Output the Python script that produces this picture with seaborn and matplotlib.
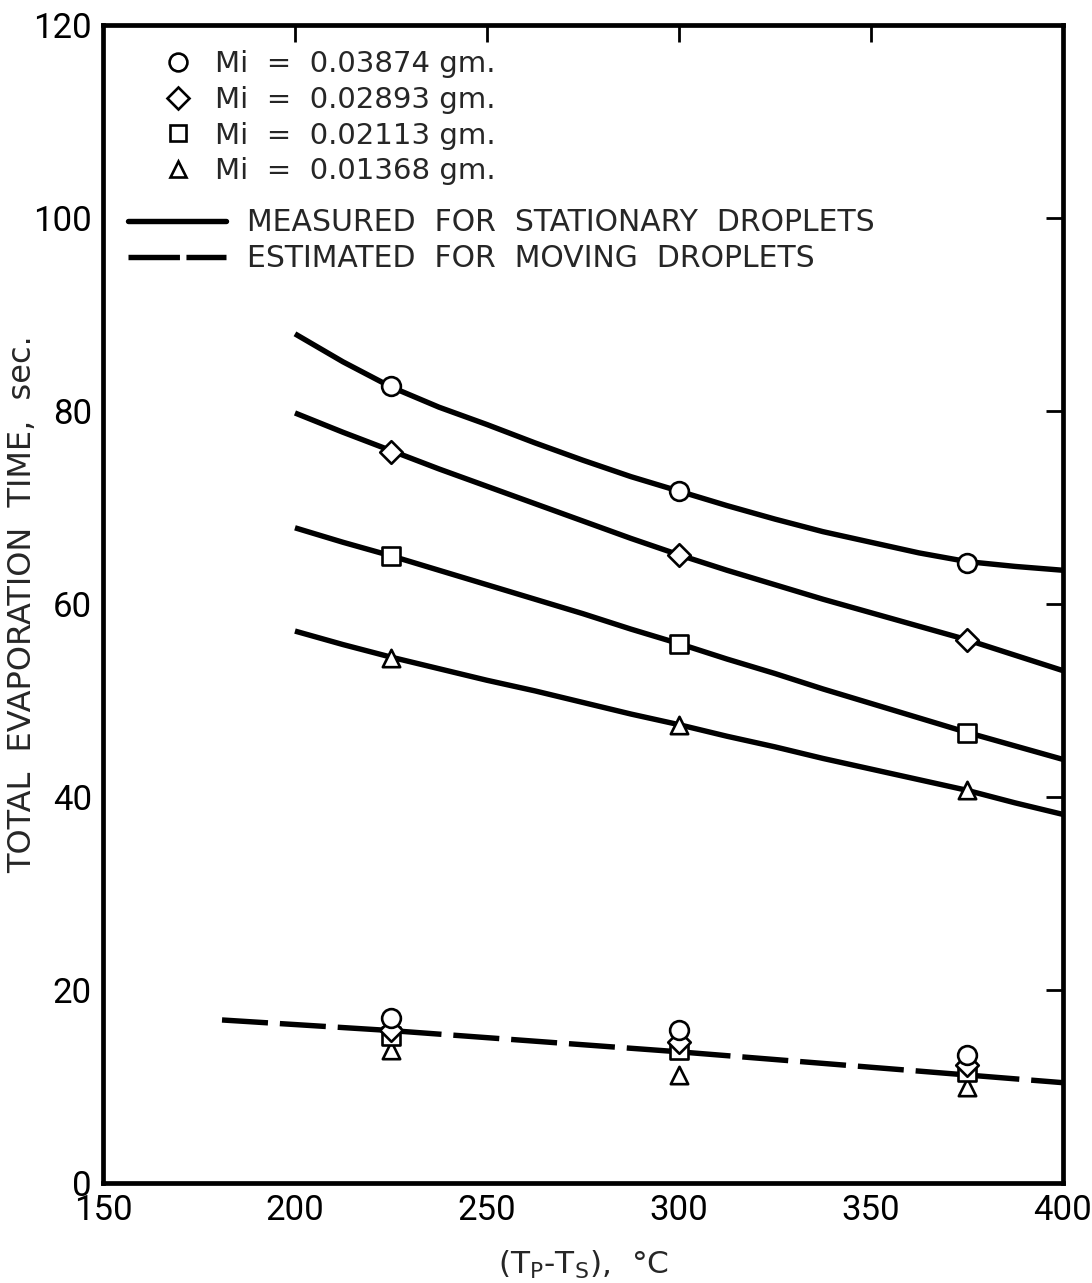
import matplotlib
matplotlib.use("Agg")
import matplotlib.pyplot as plt
from matplotlib.lines import Line2D
import seaborn as sns

# ---- data -------------------------------------------------------------
# (T_P - T_S), deg C, at which the stationary-droplet curves are read
curve_x = [200, 212.5, 225, 237.5, 250, 262.5, 275, 287.5, 300,
           312.5, 325, 337.5, 350, 362.5, 375, 387.5, 400]

# measured total evaporation time for stationary droplets (sec), one curve per initial mass
curve_m03874 = [88.0, 85.1, 82.5, 80.4, 78.6, 76.7, 74.9, 73.2, 71.7,
                70.2, 68.8, 67.5, 66.4, 65.3, 64.4, 63.9, 63.5]
curve_m02893 = [79.8, 77.8, 75.9, 74.0, 72.2, 70.4, 68.6, 66.8, 65.1,
                63.5, 62.0, 60.5, 59.1, 57.7, 56.3, 54.7, 53.1]
curve_m02113 = [67.9, 66.4, 65.0, 63.5, 62.0, 60.5, 59.0, 57.4, 55.9,
                54.3, 52.8, 51.2, 49.7, 48.2, 46.7, 45.3, 43.9]
curve_m01368 = [57.2, 55.8, 54.5, 53.3, 52.1, 51.0, 49.8, 48.6, 47.5,
                46.3, 45.2, 44.0, 42.9, 41.8, 40.7, 39.4, 38.2]

# experimental points
point_x = [225, 300, 375]
stat_m03874 = [82.6, 71.7, 64.3]
stat_m02893 = [75.8, 65.1, 56.3]
stat_m02113 = [65.0, 55.9, 46.6]
stat_m01368 = [54.4, 47.5, 40.7]

# estimated times for moving droplets
move_m03874 = [17.1, 15.9, 13.3]
move_m02893 = [15.9, 14.6, 12.2]
move_m02113 = [15.2, 13.8, 11.5]
move_m01368 = [13.8, 11.2, 10.0]

# dashed estimate for moving droplets
moving_x = [181, 225, 300, 375, 400]
moving_y = [16.9, 15.8, 13.6, 11.2, 10.4]

masses = ["0.03874", "0.02893", "0.02113", "0.01368"]
x_ticks = [150, 200, 250, 300, 350, 400]
y_ticks = [0, 20, 40, 60, 80, 100, 120]

# ---- style ------------------------------------------------------------
sns.set_theme(style="white")
plt.rcParams["font.family"] = ["DejaVu Sans"]
plt.rcParams["mathtext.default"] = "regular"

LW = 3.9
DASH = (8.5, 2.2)
fig = plt.figure(figsize=(10.92, 12.83), dpi=100)
ax = fig.add_axes([0.0943, 0.0779, 0.8791, 0.9026])

curves = [curve_m03874, curve_m02893, curve_m02113, curve_m01368]
for ys in curves:
    sns.lineplot(x=curve_x, y=ys, color="black", linewidth=LW, ax=ax,
                 zorder=2, solid_capstyle="butt", solid_joinstyle="round")

dashed = sns.lineplot(x=moving_x, y=moving_y, color="black", linewidth=LW,
                      ax=ax, zorder=2)
dashed.lines[-1].set_dashes(DASH)

# marker styles: (marker, size in points)
styles = [("o", 13.5), ("D", 11.5), ("s", 12.5), ("^", 12.5)]
stat_sets = [stat_m03874, stat_m02893, stat_m02113, stat_m01368]
move_sets = [move_m03874, move_m02893, move_m02113, move_m01368]

# draw from smallest mass upward so circles sit on top
for i in reversed(range(4)):
    mk, ms = styles[i]
    for ys in (stat_sets[i], move_sets[i]):
        sns.scatterplot(x=point_x, y=ys, marker=mk, s=ms ** 2,
                        facecolor="white", edgecolor="black", linewidth=1.9,
                        ax=ax, zorder=3 + (3 - i))

ax.set_xlim(150, 400)
ax.set_ylim(0, 120)
ax.set_xticks(x_ticks)
ax.set_yticks(y_ticks)
ax.tick_params(direction="in", length=12, width=2.0, top=True, right=True,
               labelsize=25, pad=8, colors="black")
for lab in ax.get_xticklabels() + ax.get_yticklabels():
    lab.set_fontfamily(["Roboto", "DejaVu Sans"])
for sp in ax.spines.values():
    sp.set_linewidth(3.4)
    sp.set_color("black")

ax.set_xlabel("(T$_P$-T$_S$),  °C", fontsize=22.5, labelpad=16)
ax.set_ylabel("TOTAL  EVAPORATION  TIME,  sec.", fontsize=23)
ax.yaxis.set_label_coords(-0.068, 0.5)

# ---- legends ----------------------------------------------------------
mark_handles = [Line2D([], [], linestyle="none", marker=styles[i][0],
                       markersize=styles[i][1] * 0.95, markerfacecolor="white",
                       markeredgecolor="black", markeredgewidth=1.9)
                for i in range(4)]
mark_labels = [f"Mi  =  {m} gm." for m in masses]
leg1 = ax.legend(mark_handles, mark_labels, loc="upper left",
                 bbox_to_anchor=(0.0625, 0.978), frameon=False, fontsize=21,
                 handlelength=1.0, handletextpad=0.8, labelspacing=0.26,
                 borderpad=0, borderaxespad=0)
ax.add_artist(leg1)

line_handles = [Line2D([], [], color="black", linewidth=LW),
                Line2D([], [], color="black", linewidth=LW, dashes=(9.5, 1.2))]
line_labels = ["MEASURED  FOR  STATIONARY  DROPLETS",
               "ESTIMATED  FOR  MOVING  DROPLETS"]
ax.legend(line_handles, line_labels, loc="upper left",
          bbox_to_anchor=(0.026, 0.842), frameon=False, fontsize=21.5,
          handlelength=3.3, handletextpad=0.7, labelspacing=0.25,
          borderpad=0, borderaxespad=0)

fig.savefig("out.png", dpi=100, facecolor="white")
